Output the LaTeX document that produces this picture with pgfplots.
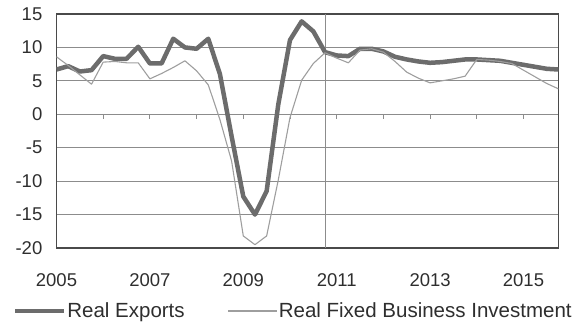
\documentclass[border=0pt]{standalone}
\usepackage{pgfplots}
\pgfplotsset{compat=1.18}
\usepackage{fontspec}
\setmainfont{Liberation Sans}
\definecolor{expc}{HTML}{6C6C6C}
\definecolor{invc}{HTML}{9E9E9E}
\definecolor{gridc}{HTML}{8C8C8C}
\definecolor{borderc}{HTML}{4A4A4A}
\definecolor{textc}{HTML}{2E2E2E}
\begin{document}
\begin{tikzpicture}
\useasboundingbox (-56.5pt,-81pt) rectangle (522.5pt,248pt);
\begin{axis}[
  scale only axis, width=502pt, height=234pt,
  xmin=0, xmax=43, ymin=-20, ymax=15,
  ytick={-20,-15,-10,-5,0,5,10,15},
  yticklabels={-20,-15,-10,-5,0,5,10,15},
  xtick={0,8,16,24,32,40},
  xticklabels={2005,2007,2009,2011,2013,2015},
  major tick length=0pt,
  ymajorgrids, grid style={color=gridc, line width=0.9pt},
  axis line style={color=borderc, line width=1.5pt},
  tick label style={font=\fontsize{18.5}{20}\selectfont, text=textc},
  xticklabel style={anchor=north, inner sep=0pt, yshift=-25pt},
  yticklabel style={anchor=east, inner sep=0pt, xshift=-14pt},
  legend style={at={(-0.0873,-0.2692)}, anchor=west, draw=none, fill=none,
    inner sep=0pt, font=\fontsize{20.5}{22}\selectfont, text=textc,
    legend columns=2, nodes={inner sep=0pt, anchor=west},
    column sep=1pt,
    /tikz/every even column/.append style={column sep=43pt}},
  legend image code/.code={\draw[#1] (0pt,0pt) -- (49pt,0pt);},
]
\draw[color=gridc, line width=0.9pt] (axis cs:23,-20) -- (axis cs:23,15);
\pgfplotsinvokeforeach{4,8,12,16,20,24,28,32,36,40}{\draw[color=gridc, line width=0.8pt] (axis cs:#1,0) -- ++(0pt,-5pt);}
\addplot[color=expc, line width=4.5pt, line join=round] coordinates {
(0,6.7) (1,7.2) (2,6.4) (3,6.6) (4,8.7) (5,8.3) (6,8.3) (7,10.1) (8,7.6) (9,7.6)
(10,11.3) (11,10.0) (12,9.8) (13,11.3) (14,6.0) (15,-3.3) (16,-12.3) (17,-15.0) (18,-11.5) (19,1.5)
(20,11.1) (21,13.9) (22,12.4) (23,9.3) (24,8.8) (25,8.7) (26,9.8) (27,9.8) (28,9.4) (29,8.6)
(30,8.2) (31,7.9) (32,7.7) (33,7.8) (34,8.0) (35,8.2) (36,8.2) (37,8.1) (38,8.0) (39,7.7)
(40,7.4) (41,7.1) (42,6.8) (43,6.7)
};
\addlegendentry{Real Exports}
\addplot[color=invc, line width=1.1pt, line join=round] coordinates {
(0,8.6) (1,7.3) (2,5.9) (3,4.5) (4,7.8) (5,7.9) (6,7.7) (7,7.7) (8,5.3) (9,6.1)
(10,7.0) (11,8.0) (12,6.5) (13,4.4) (14,-0.8) (15,-7.0) (16,-18.2) (17,-19.5) (18,-18.2) (19,-9.8)
(20,-0.5) (21,5.1) (22,7.6) (23,9.2) (24,8.4) (25,7.7) (26,9.6) (27,9.8) (28,9.3) (29,7.9)
(30,6.3) (31,5.4) (32,4.7) (33,5.0) (34,5.3) (35,5.7) (36,8.2) (37,8.1) (38,7.9) (39,7.6)
(40,6.6) (41,5.6) (42,4.6) (43,3.8)
};
\addlegendentry{Real Fixed Business Investment}
\end{axis}
\end{tikzpicture}
\end{document}
